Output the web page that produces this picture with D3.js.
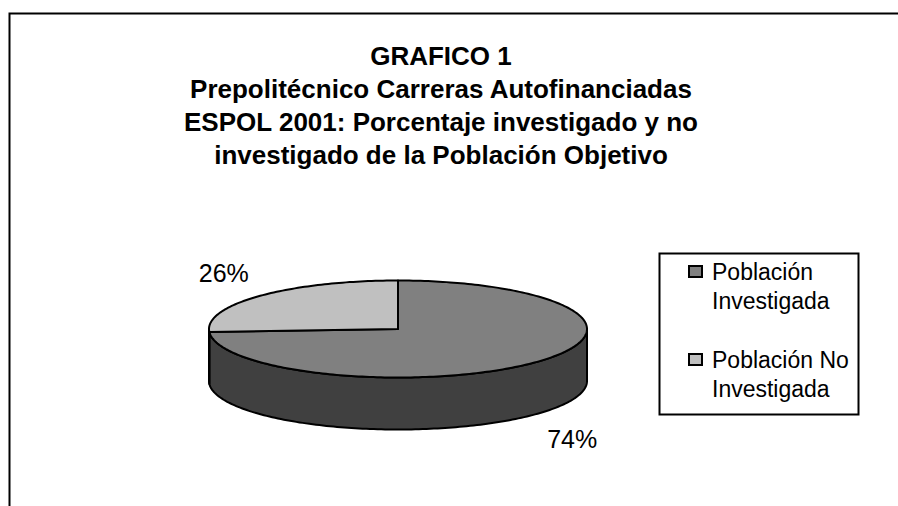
<!DOCTYPE html>
<html>
<head>
<meta charset="utf-8">
<script src="https://cdn.jsdelivr.net/npm/d3@7"></script>
<style>
  body { margin: 0; background: #fff; }
  text { font-family: "Liberation Sans", Arial, sans-serif; }
</style>
</head>
<body>
<svg id="chart"></svg>
<script>
// chart data
var categories = ["Población Investigada", "Población No Investigada"];
var values = [74, 26];
var pctLabels = ["74%", "26%"];
var legendLines = [["Población", "Investigada"], ["Población No", "Investigada"]];
var titleLines = [
  "GRAFICO 1",
  "Prepolitécnico Carreras Autofinanciadas",
  "ESPOL 2001: Porcentaje investigado y no",
  "investigado de la Población Objetivo"
];

var width = 898;
var height = 506;

var topColors = ["#808080", "#c0c0c0"];
var sideColors = ["#404040", "#606060"];

var svg = d3.select("#chart")
    .attr("width", width)
    .attr("height", height);

// frame of the chart area (runs past the right and bottom edges)
svg.append("rect")
    .attr("x", 9.5)
    .attr("y", 13.5)
    .attr("width", 1000)
    .attr("height", 1000)
    .attr("fill", "#fff")
    .attr("stroke", "#000")
    .attr("stroke-width", 2);

// title
svg.append("text")
    .attr("x", 441)
    .attr("y", 65)
    .attr("text-anchor", "middle")
    .style("font-size", "26px")
    .style("font-weight", "bold")
    .selectAll("tspan")
    .data(titleLines)
    .enter()
    .append("tspan")
     .attr("x", 441)
     .attr("dy", (d, i) => i === 0 ? 0 : 33)
     .text(d => d);

// 3d pie
var cx = 398, cy = 329, rx = 189, ry = 48.5, depth = 52;

var pie = d3.pie().sort(null).value(d => d);
var arcs = pie(values);

function pt(a, dy) {
  return [cx + rx * Math.sin(a), cy - ry * Math.cos(a) + (dy || 0)];
}

function ellArc(a0, a1, dy) {
  // points along ellipse from a0 to a1
  var n = Math.max(2, Math.ceil(Math.abs(a1 - a0) / 0.02));
  var p = [];
  for (var i = 0; i <= n; i++) {
    p.push(pt(a0 + (a1 - a0) * i / n, dy));
  }
  return p;
}

var line = d3.line();

// side walls (front half only: angles PI/2 .. 3PI/2)
arcs.forEach(function(d, i) {
  var a0 = Math.max(d.startAngle, Math.PI / 2);
  var a1 = Math.min(d.endAngle, 3 * Math.PI / 2);
  if (a1 <= a0) return;
  var p = ellArc(a0, a1, 0).concat(ellArc(a1, a0, depth));
  svg.append("path")
      .attr("d", line(p) + "Z")
      .attr("fill", sideColors[i])
      .attr("stroke", "#000")
      .attr("stroke-width", 2)
      .attr("stroke-linejoin", "round");
});

// top faces
arcs.forEach(function(d, i) {
  var p = [[cx, cy]].concat(ellArc(d.startAngle, d.endAngle, 0));
  svg.append("path")
      .attr("d", line(p) + "Z")
      .attr("fill", topColors[i])
      .attr("stroke", "#000")
      .attr("stroke-width", 2)
      .attr("stroke-linejoin", "round");
});

// percent labels
arcs.forEach(function(d, i) {
  var mid = (d.startAngle + d.endAngle) / 2;
  var c = Math.cos(mid);
  svg.append("text")
      .attr("x", cx + 239 * Math.sin(mid))
      .attr("y", cy - 82 * c + (c < 0 ? depth + 2 : 0))
      .attr("dy", "0.35em")
      .attr("text-anchor", "middle")
      .style("font-size", "25px")
      .text(pctLabels[i]);
});

// legend
var legend = svg.append("g");
legend.append("rect")
    .attr("x", 659.5)
    .attr("y", 253.5)
    .attr("width", 199)
    .attr("height", 161)
    .attr("fill", "#fff")
    .attr("stroke", "#000")
    .attr("stroke-width", 2);

categories.forEach(function(c, i) {
  var y0 = 266 + i * 88;
  legend.append("rect")
      .attr("x", 689)
      .attr("y", y0)
      .attr("width", 13)
      .attr("height", 11)
      .attr("fill", topColors[i])
      .attr("stroke", "#000")
      .attr("stroke-width", 2);
  legend.append("text")
      .attr("x", 712)
      .attr("y", y0 + 14)
      .style("font-size", "23px")
      .selectAll("tspan")
      .data(legendLines[i])
      .enter()
      .append("tspan")
       .attr("x", 712)
       .attr("dy", (d, j) => j === 0 ? 0 : 29)
       .text(d => d);
});
</script>
</body>
</html>
